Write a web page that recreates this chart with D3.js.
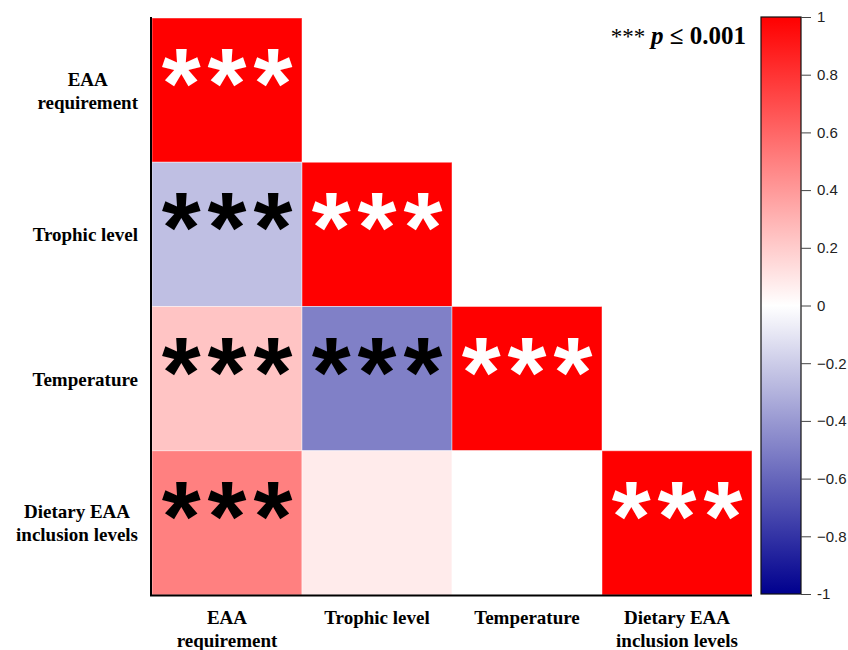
<!DOCTYPE html>
<html>
<head>
<meta charset="utf-8">
<script src="https://cdn.jsdelivr.net/npm/d3@7"></script>
<style>
  html, body { margin: 0; padding: 0; background: #fff; }
  svg { display: block; }
</style>
</head>
<body>
<svg id="chart" width="848" height="650"></svg>
<script>
// Variables of the correlation matrix (rows top→bottom, columns left→right)
const variables = ["EAA requirement", "Trophic level", "Temperature", "Dietary EAA inclusion levels"];
const labelLines = [["EAA", "requirement"], ["Trophic level"], ["Temperature"], ["Dietary EAA", "inclusion levels"]];

// Lower-triangle correlation coefficients, one array per row
const rowEAA      = [1.00];
const rowTrophic  = [-0.25, 1.00];
const rowTemp     = [0.23, -0.50, 1.00];
const rowDietary  = [0.50, 0.08, 0.00, 1.00];
const correlations = [rowEAA, rowTrophic, rowTemp, rowDietary];

// Significance marks, same layout as the coefficients
const sigEAA      = ["***"];
const sigTrophic  = ["***", "***"];
const sigTemp     = ["***", "***", "***"];
const sigDietary  = ["***", "", "", "***"];
const significance = [sigEAA, sigTrophic, sigTemp, sigDietary];

const colorTicks = [1, 0.8, 0.6, 0.4, 0.2, 0, -0.2, -0.4, -0.6, -0.8, -1];

const svg = d3.select("#chart");

const x = d3.scaleBand().domain(variables).range([152, 752]).padding(0);
const y = d3.scaleBand().domain(variables).range([18, 595]).padding(0);
const color = d3.scaleLinear().domain([-1, 0, 1]).range(["#00008E", "#ffffff", "#ff0000"]);

// Cells
const cells = [];
correlations.forEach((row, i) => row.forEach((v, j) => {
  cells.push({ r: variables[i], c: variables[j], v, sig: significance[i][j], diag: i === j });
}));

svg.append("g").selectAll("rect").data(cells).join("rect")
  .attr("x", d => x(d.c))
  .attr("y", d => y(d.r))
  .attr("width", x.bandwidth())
  .attr("height", y.bandwidth())
  .attr("fill", d => color(d.v))
  .attr("stroke", "rgba(255,255,255,0.45)")
  .attr("stroke-width", 1);

// Significance asterisks
const starSpacing = 7;
svg.append("g").selectAll("text").data(cells.filter(d => d.sig)).join("text")
  .attr("x", d => x(d.c) + x.bandwidth() / 2 + starSpacing / 2)
  .attr("y", d => y(d.r) + 100)
  .attr("text-anchor", "middle")
  .attr("font-family", "Liberation Sans, Arial, sans-serif")
  .attr("font-weight", "bold")
  .attr("font-size", 100)
  .attr("letter-spacing", starSpacing)
  .attr("fill", d => Math.abs(d.v) > 0.7 ? "#ffffff" : "#000000")
  .text(d => d.sig);

// Axis lines
svg.append("line").attr("x1", 151).attr("x2", 151).attr("y1", 17).attr("y2", 596)
  .attr("stroke", "#000").attr("stroke-width", 2);
svg.append("line").attr("x1", 150).attr("x2", 752).attr("y1", 595.5).attr("y2", 595.5)
  .attr("stroke", "#000").attr("stroke-width", 2);

const labelFont = "Liberation Serif, 'Times New Roman', serif";
const labelSize = 19;

// Row labels: each block right-aligned, lines centred within the block
const rowLabels = svg.append("g");
labelLines.forEach((lines, i) => {
  const g = rowLabels.append("g");
  const lh = 23;
  const cy = y(variables[i]) + y.bandwidth() / 2;
  const texts = lines.map((t, k) => g.append("text")
    .attr("font-family", labelFont).attr("font-weight", "bold").attr("font-size", labelSize)
    .attr("text-anchor", "middle")
    .attr("y", cy + (k - (lines.length - 1) / 2) * lh + 7)
    .text(t));
  const w = d3.max(texts, t => t.node().getComputedTextLength());
  texts.forEach(t => t.attr("x", 138 - w / 2));
});

// Column labels
const colLabels = svg.append("g");
labelLines.forEach((lines, j) => {
  lines.forEach((t, k) => colLabels.append("text")
    .attr("font-family", labelFont).attr("font-weight", "bold").attr("font-size", labelSize)
    .attr("text-anchor", "middle")
    .attr("x", x(variables[j]) + x.bandwidth() / 2)
    .attr("y", 624 + k * 23)
    .text(t));
});

// Significance legend
const legend = svg.append("text")
  .attr("x", 746).attr("y", 44)
  .attr("text-anchor", "end")
  .attr("font-family", labelFont).attr("font-weight", "bold").attr("font-size", 25);
legend.append("tspan").attr("font-weight", "normal").attr("font-size", 23).text("*** ");
legend.append("tspan").attr("font-style", "italic").text("p");
legend.append("tspan").text(" ≤ 0.001");

// Colour bar
const cb = { x: 761, w: 40 };
const cbScale = d3.scaleLinear().domain([-1, 1]).range([594, 17]);
const defs = svg.append("defs");
const grad = defs.append("linearGradient").attr("id", "cbGrad")
  .attr("x1", 0).attr("x2", 0).attr("y1", 1).attr("y2", 0);
d3.range(-1, 1.0001, 0.1).forEach(v => {
  grad.append("stop").attr("offset", (v + 1) / 2).attr("stop-color", color(v));
});
svg.append("rect")
  .attr("x", cb.x).attr("y", cbScale(1))
  .attr("width", cb.w).attr("height", cbScale(-1) - cbScale(1))
  .attr("fill", "url(#cbGrad)")
  .attr("stroke", "#111").attr("stroke-width", 1.2);

const cbAxis = d3.axisRight(cbScale).tickValues(colorTicks).tickSize(10).tickPadding(6)
  .tickFormat(d => d === 0 ? "0" : (Number.isInteger(d) ? String(d) : d3.format(".1f")(d)));
const cbG = svg.append("g").attr("transform", `translate(${cb.x + cb.w},0)`).call(cbAxis);
cbG.select(".domain").remove();
cbG.selectAll(".tick line").attr("stroke", "#444");
cbG.selectAll(".tick text")
  .attr("font-family", "Liberation Sans, Arial, sans-serif")
  .attr("font-size", 15).attr("fill", "#222");
</script>
</body>
</html>
